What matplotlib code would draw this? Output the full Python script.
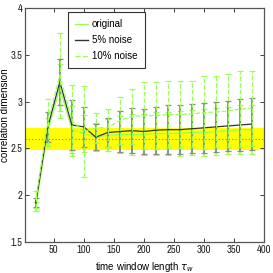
import matplotlib
matplotlib.use("Agg")
import matplotlib.pyplot as plt
from matplotlib.lines import Line2D
from matplotlib import font_manager

names = {f.name for f in font_manager.fontManager.ttflist}
narrow = 'Liberation Sans'
for cand in ['Liberation Sans Narrow', 'Archivo Narrow']:
    if cand in names:
        narrow = cand
        break
plt.rcParams['font.family'] = ['Liberation Sans', 'DejaVu Sans']

tau = [20, 40, 60, 80, 100, 120, 140, 160, 180, 200, 220, 240, 260, 280, 300, 320, 340, 360, 380]

orig_mean = [1.88, 2.68, 3.15, 2.70, 2.66, 2.62, 2.64, 2.65, 2.65, 2.65, 2.66, 2.66, 2.66, 2.67, 2.67, 2.68, 2.69, 2.70, 2.70]
orig_err = [0.05, 0.15, 0.25, 0.25, 0.20, 0.15, 0.17, 0.20, 0.22, 0.22, 0.23, 0.23, 0.24, 0.24, 0.25, 0.25, 0.25, 0.26, 0.26]

n5_mean = [1.92, 2.73, 3.21, 2.75, 2.73, 2.62, 2.67, 2.68, 2.69, 2.68, 2.695, 2.70, 2.70, 2.71, 2.72, 2.73, 2.74, 2.75, 2.76]
n5_err = [0.045, 0.16, 0.25, 0.27, 0.21, 0.14, 0.15, 0.22, 0.24, 0.24, 0.25, 0.26, 0.26, 0.26, 0.27, 0.27, 0.27, 0.28, 0.28]

n10_mean = [1.95, 2.78, 3.28, 2.80, 2.68, 2.72, 2.72, 2.80, 2.84, 2.85, 2.85, 2.86, 2.86, 2.87, 2.88, 2.89, 2.90, 2.92, 2.93]
n10_err = [0.09, 0.25, 0.45, 0.38, 0.49, 0.16, 0.20, 0.25, 0.29, 0.36, 0.36, 0.36, 0.36, 0.35, 0.39, 0.38, 0.39, 0.41, 0.40]

band_low, band_high, band_mid = 2.48, 2.72, 2.60

labels = ['original', '5% noise', '10% noise']
xticks = [50, 100, 150, 200, 250, 300, 350, 400]
yticks = [1.5, 2, 2.5, 3, 3.5, 4]
yticklabels = ['1.5', '2', '2.5', '3', '3.5', '4']

green = '#99ff55'
dark = '#333333'
gray = '#8a8a8a'

fig = plt.figure(figsize=(2.73, 2.73), dpi=100)
ax = fig.add_axes([0.0916, 0.1136, 0.875, 0.857])

ax.axhspan(band_low, band_high, color='#ffff00', zorder=0, lw=0)
ax.axhline(band_mid, color='#8a8a30', ls=(0, (1, 2)), lw=0.8, zorder=1)

ax.errorbar(tau, orig_mean, yerr=orig_err, color=green, ecolor=green, lw=0.9,
            elinewidth=1.2, capsize=2, capthick=0.9, zorder=2)
ax.errorbar(tau, n5_mean, yerr=n5_err, color=dark, ecolor=gray, lw=0.9,
            elinewidth=1.3, capsize=2.2, capthick=0.9, zorder=3)
e3 = ax.errorbar(tau, n10_mean, yerr=n10_err, color=green, ecolor=green, lw=0.9,
                 elinewidth=0.9, capsize=2, capthick=0.9, ls='--', zorder=4)
e3[2][0].set_linestyle('--')

ax.set_xlim(2, 400)
ax.set_ylim(1.5, 4)
ax.set_xticks(xticks)
ax.set_xticklabels([str(v) for v in xticks])
ax.set_yticks(yticks)
ax.set_yticklabels(yticklabels)
ax.tick_params(direction='in', top=True, right=True, length=3, width=0.6,
               labelsize=7.6, pad=2, colors='#222222')
for lab in ax.get_xticklabels() + ax.get_yticklabels():
    lab.set_family([narrow, 'DejaVu Sans'])
for s in ax.spines.values():
    s.set_linewidth(0.9)
    s.set_color('#555555')

ax.set_xlabel(r'time window length $\tau_w$', fontsize=7)
ax.xaxis.set_label_coords(0.5, -0.075)
ax.set_ylabel('correlation dimension', fontsize=7.1)
ax.yaxis.set_label_coords(-0.062, 0.54)

handles = [Line2D([], [], color=green, lw=1.0),
           Line2D([], [], color=dark, lw=1.0),
           Line2D([], [], color=green, lw=1.0, ls='--')]
leg = ax.legend(handles, labels, loc='upper left', bbox_to_anchor=(0.18, 0.983),
                borderaxespad=0, fontsize=7, frameon=True, fancybox=False,
                handlelength=1.3, borderpad=0.75, labelspacing=0.6, handletextpad=0.4)
leg.get_frame().set_edgecolor('#333333')
leg.get_frame().set_linewidth(0.8)
leg.get_frame().set_alpha(1)

fig.savefig('out.png', dpi=100)
